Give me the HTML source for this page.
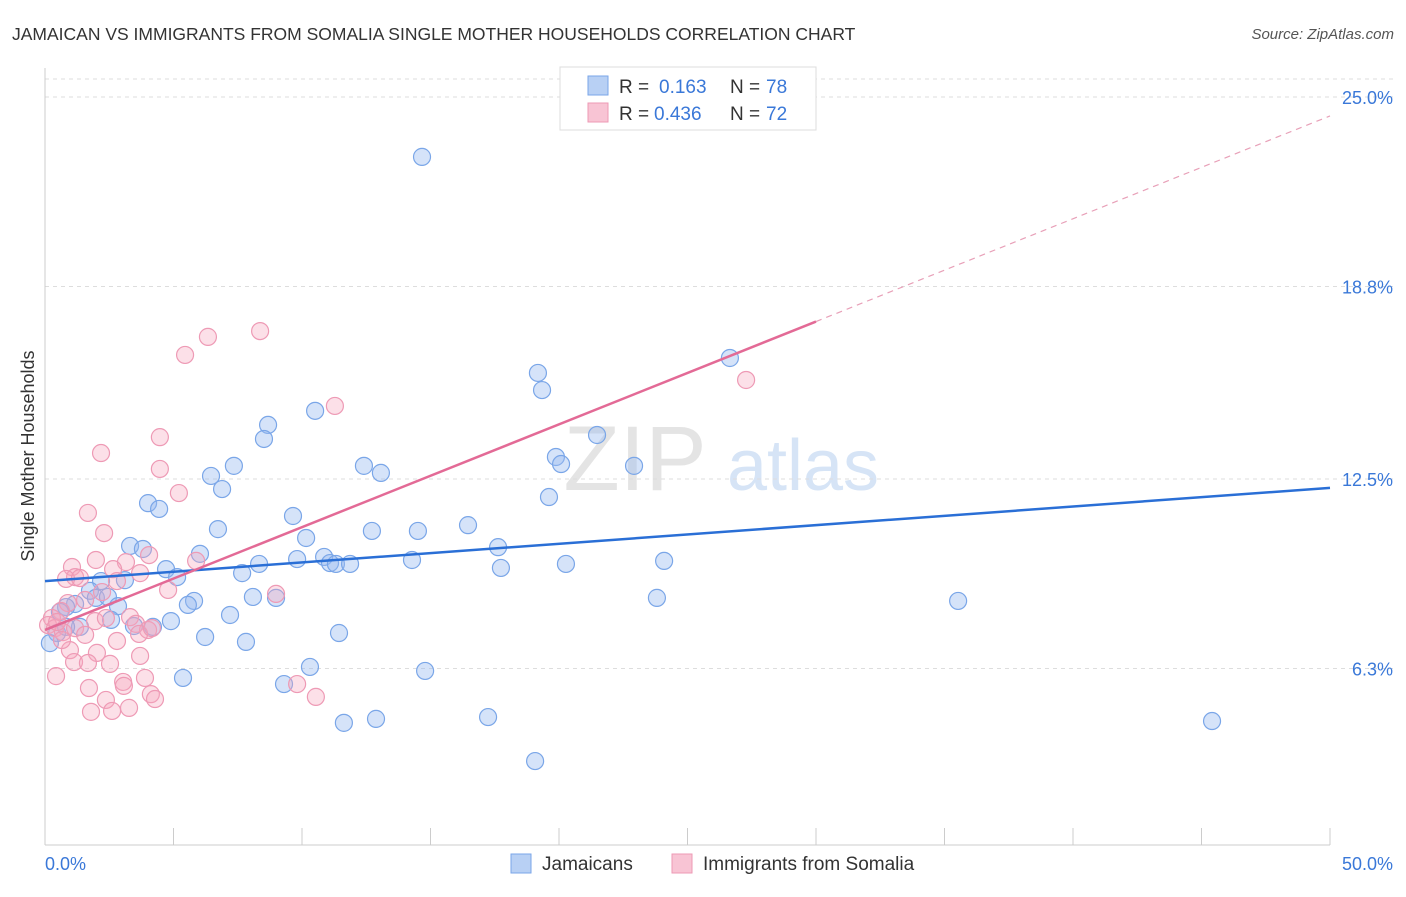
<!DOCTYPE html>
<html><head><meta charset="utf-8">
<style>
body{margin:0;background:#fff;font-family:"Liberation Sans",sans-serif;}
svg text{font-family:"Liberation Sans",sans-serif;}
</style></head>
<body>
<svg id="chart" width="1406" height="892" viewBox="0 0 1406 892" xmlns="http://www.w3.org/2000/svg">
<text x="12" y="40" font-size="17.5" fill="#333">JAMAICAN VS IMMIGRANTS FROM SOMALIA SINGLE MOTHER HOUSEHOLDS CORRELATION CHART</text>
<text x="1394" y="39" font-size="15" fill="#555" text-anchor="end" font-style="italic">Source: ZipAtlas.com</text>
<g>
<text x="635" y="490" font-size="92" fill="#e4e4e4" text-anchor="middle" font-family="Liberation Serif">ZIP</text>
<text x="803" y="490" font-size="72" fill="#d6e4f6" text-anchor="middle">atlas</text>
</g>
<g id="grid"></g>
<g id="axes"></g>
<text transform="translate(34,456) rotate(-90)" font-size="18" fill="#333" text-anchor="middle">Single Mother Households</text>
<g id="marks"></g>
<g id="lines"></g>
<g>
<rect x="560" y="67" width="256" height="63" fill="#fff" stroke="#ddd"/>
<rect x="588" y="76" width="20" height="19" fill="#b8d0f4" stroke="#7aa6e8"/>
<rect x="588" y="103" width="20" height="19" fill="#f8c4d4" stroke="#ee9ab5"/>
<text x="619" y="93" font-size="19" fill="#333">R =</text>
<text x="659" y="93" font-size="19" fill="#3a78d8">0.163</text>
<text x="730" y="93" font-size="19" fill="#333">N =</text>
<text x="766" y="93" font-size="19" fill="#3a78d8">78</text>
<text x="619" y="120" font-size="19" fill="#333">R =</text>
<text x="654" y="120" font-size="19" fill="#3a78d8">0.436</text>
<text x="730" y="120" font-size="19" fill="#333">N =</text>
<text x="766" y="120" font-size="19" fill="#3a78d8">72</text>
</g>
<g>
<rect x="511" y="854" width="20" height="19" fill="#b8d0f4" stroke="#7aa6e8"/>
<text x="542" y="870" font-size="19" fill="#333">Jamaicans</text>
<rect x="672" y="854" width="20" height="19" fill="#f8c4d4" stroke="#ee9ab5"/>
<text x="703" y="870" font-size="19" fill="#333">Immigrants from Somalia</text>
</g>
</svg>
<script>
const yTicks=[6.3,12.5,18.8,25.0];
const yTickLabels=["6.3%","12.5%","18.8%","25.0%"];
const xTickLabels=["0.0%","50.0%"];
const blueX=[14.67,26.65,19.18,19.34,21.48,8.68,8.52,10.51,7.35,6.46,6.89,12.41,13.07,19.88,20.08,22.92,19.61,4.01,4.44,6.73,9.65,12.72,14.51,16.46,10.16,3.31,3.81,6.03,4.71,5.14,7.67,8.33,9.81,10.86,11.09,11.32,11.87,14.28,17.63,17.74,20.27,24.09,2.18,3.11,1.75,1.98,2.45,1.17,0.82,0.58,2.84,2.57,5.80,5.56,4.20,3.46,4.90,7.20,8.09,8.99,1.36,0.47,0.19,6.23,7.82,11.44,23.81,35.53,10.31,14.79,5.37,9.30,11.63,12.88,17.24,19.07,45.41,0.82];
const blueY=[23.04,16.46,15.97,15.41,13.94,14.27,13.81,14.73,12.93,12.60,12.17,12.93,12.70,13.22,12.99,12.93,11.91,11.71,11.52,10.86,11.29,10.80,10.80,10.99,10.57,10.31,10.21,10.05,9.55,9.29,9.42,9.72,9.88,9.95,9.75,9.72,9.72,9.85,10.27,9.59,9.72,9.82,9.16,9.19,8.84,8.61,8.64,8.41,8.31,8.15,8.34,7.89,8.51,8.38,7.66,7.69,7.85,8.05,8.64,8.61,7.66,7.46,7.13,7.33,7.17,7.46,8.61,8.51,6.35,6.22,5.99,5.79,4.52,4.65,4.71,3.27,4.58,7.66];
const pinkX=[8.37,6.34,5.45,11.28,27.28,4.47,2.18,4.47,5.21,1.67,2.30,4.05,1.98,1.05,3.15,2.65,3.70,1.17,0.82,1.36,5.88,4.79,2.80,2.22,8.99,0.89,1.56,0.62,0.27,0.12,0.39,0.70,1.17,1.95,2.37,3.31,3.54,4.01,3.66,2.80,1.56,0.97,2.02,3.70,1.13,1.67,2.53,0.43,3.04,3.89,1.71,3.07,2.37,4.12,4.28,3.27,1.79,2.61,9.81,10.54,0.47,4.16,0.66];
const pinkY=[17.34,17.15,16.56,14.89,15.74,13.87,13.35,12.83,12.04,11.39,10.73,10.01,9.85,9.62,9.78,9.55,9.42,9.29,9.23,9.26,9.82,8.87,9.16,8.80,8.74,8.44,8.54,8.18,7.95,7.72,7.62,7.49,7.62,7.85,7.95,7.98,7.76,7.56,7.43,7.20,7.40,6.90,6.81,6.71,6.51,6.48,6.45,6.05,5.86,5.99,5.66,5.73,5.27,5.46,5.30,5.01,4.88,4.91,5.79,5.37,7.82,7.62,7.23];
const blueTrend=[9.16,12.21];
const pinkTrend=[7.56,24.38];
const pinkSolidEnd=30;

const NS="http://www.w3.org/2000/svg";
const X0=45,X1=1330,Y25=97,PXPER=30.56;
const xs=v=>X0+(v/50)*(X1-X0);
const ys=v=>Y25+(25-v)*PXPER;
function mk(tag,attrs,parent){const e=document.createElementNS(NS,tag);for(const k in attrs)e.setAttribute(k,attrs[k]);parent.appendChild(e);return e;}
const gridG=document.getElementById('grid'),axesG=document.getElementById('axes'),marksG=document.getElementById('marks'),linesG=document.getElementById('lines');
const topGrid=mk('line',{x1:X0,x2:1394,y1:79,y2:79,stroke:'#ddd','stroke-dasharray':'4,4'},gridG);


yTicks.forEach((t,i)=>{
 const g=mk('line',{x1:X0,x2:1394,y1:ys(t),y2:ys(t),stroke:'#ddd','stroke-dasharray':'4,4'},gridG);
 
 
 const tx=mk('text',{x:1393,y:ys(t)+7,'font-size':18,fill:'#3a78d8','text-anchor':'end'},axesG);
 tx.textContent=yTickLabels[i];
 
 
});
const axX=mk('line',{x1:X0,x2:X1,y1:845,y2:845,stroke:'#ccc'},axesG);


const axY=mk('line',{x1:X0,x2:X0,y1:68,y2:845,stroke:'#ccc'},axesG);


for(let i=0;i<=10;i++){
 const t=mk('line',{x1:xs(i*5),x2:xs(i*5),y1:828,y2:845,stroke:'#ccc'},axesG);
 
 
}
[[0,'start',45],[50,'end',1393]].forEach((d,i)=>{
 const t=mk('text',{x:d[2],y:870,'font-size':18,fill:'#3a78d8','text-anchor':d[1]},axesG);
 t.textContent=xTickLabels[i];
 
 
});
function pts(X,Y,fill,stroke,name){
 X.forEach((x,i)=>{
  const c=mk('circle',{cx:xs(x),cy:ys(Y[i]),r:8.5,fill:fill,stroke:stroke,'stroke-width':1.2},marksG);
  
  
 });
}
pts(blueX,blueY,'rgba(150,185,240,0.4)','#7aa6e8','jamaican-point');
pts(pinkX,pinkY,'rgba(245,165,190,0.35)','#ee9ab5','somalia-point');
const bl=mk('line',{x1:xs(0),y1:ys(blueTrend[0]),x2:xs(50),y2:ys(blueTrend[1]),stroke:'#2a6fd6','stroke-width':2.5},linesG);


const pAt=x=>pinkTrend[0]+(pinkTrend[1]-pinkTrend[0])*x/50;
const pl=mk('line',{x1:xs(0),y1:ys(pAt(0)),x2:xs(pinkSolidEnd),y2:ys(pAt(pinkSolidEnd)),stroke:'#e36a96','stroke-width':2.5},linesG);


const pd=mk('line',{x1:xs(pinkSolidEnd),y1:ys(pAt(pinkSolidEnd)),x2:xs(50),y2:ys(pAt(50)),stroke:'#e8a0b8','stroke-width':1.2,'stroke-dasharray':'6,5'},linesG);


</script>
</body></html>
